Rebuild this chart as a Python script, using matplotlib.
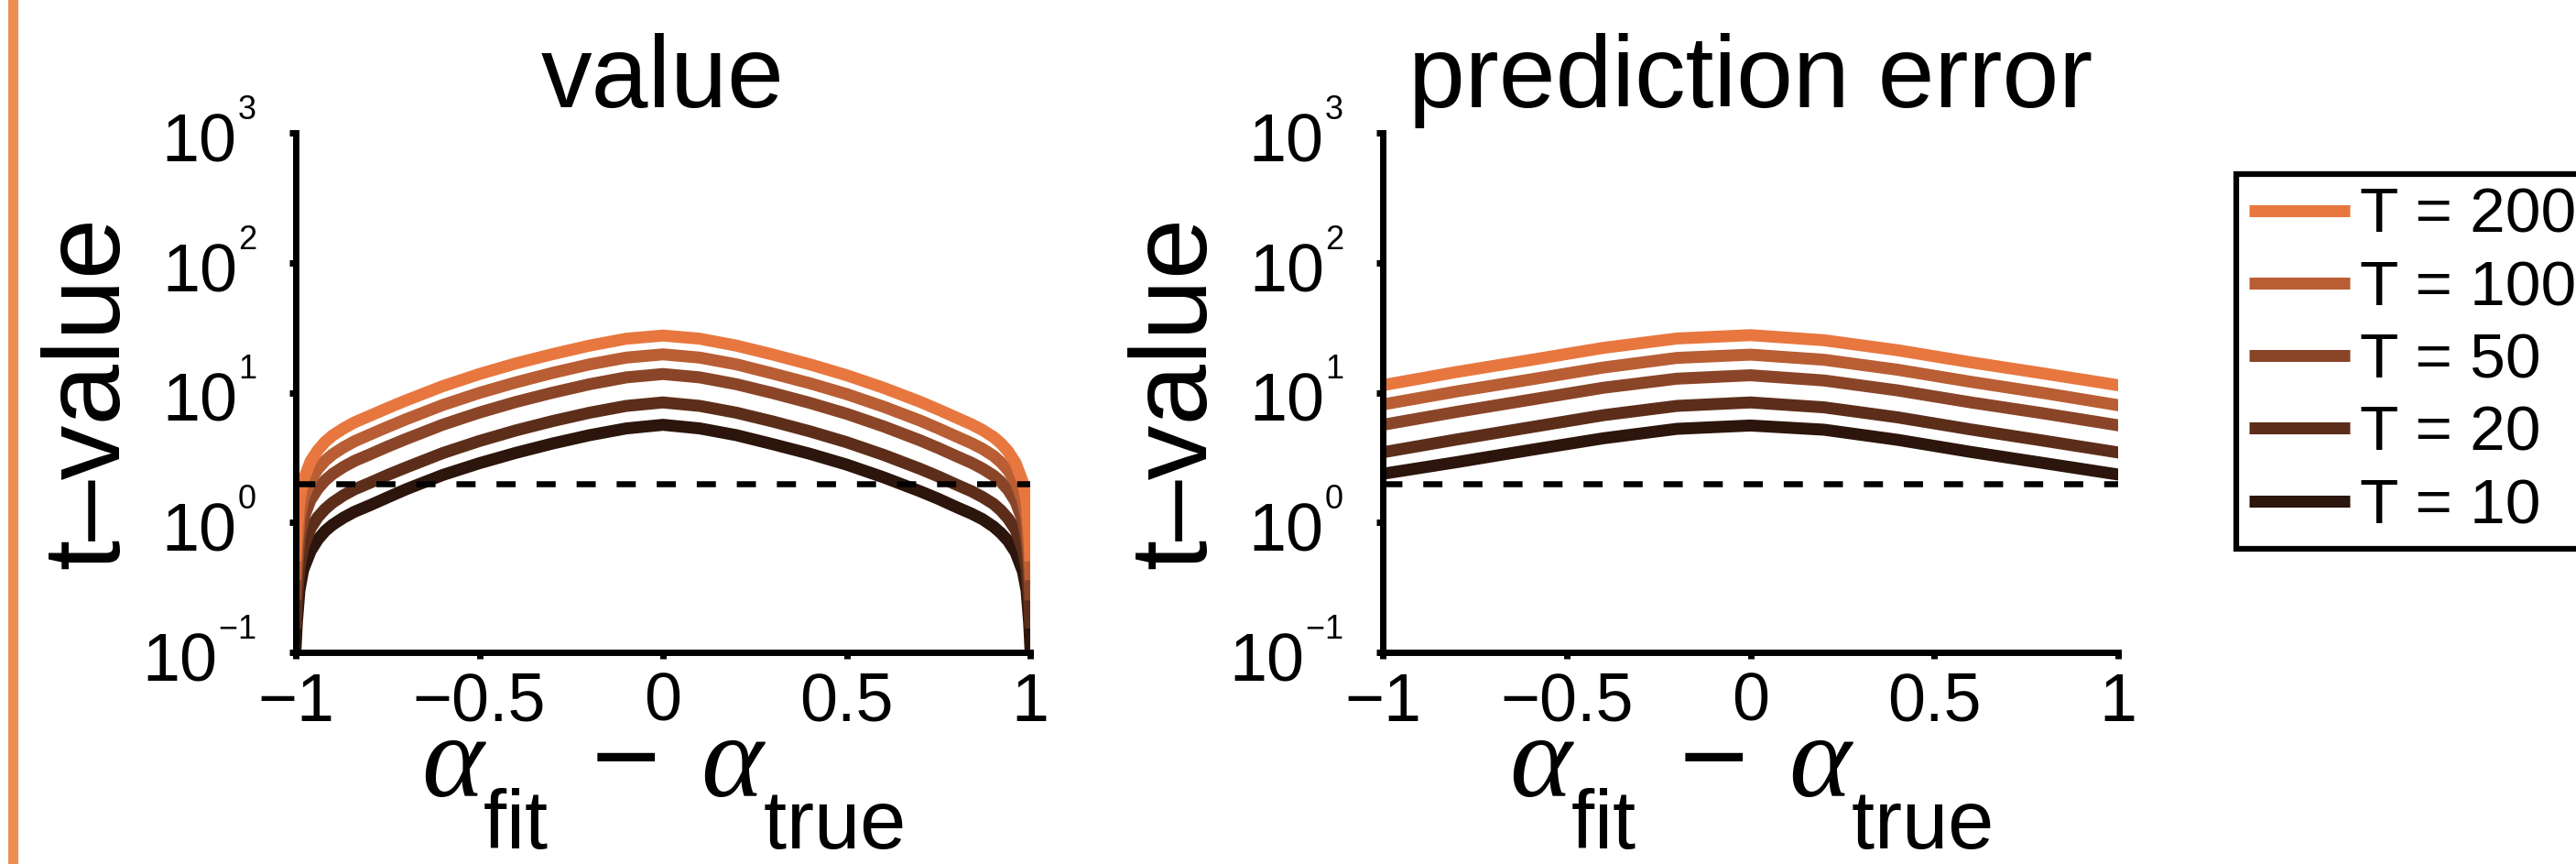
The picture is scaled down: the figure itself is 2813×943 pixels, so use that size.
import math
import matplotlib
matplotlib.use('Agg')
import matplotlib.pyplot as plt
from matplotlib.lines import Line2D
from matplotlib.patches import Rectangle
from matplotlib.ticker import FixedLocator, FuncFormatter, NullLocator

plt.rcParams['font.family'] = ['Liberation Sans', 'DejaVu Sans']
plt.rcParams['mathtext.fontset'] = 'custom'
plt.rcParams['mathtext.rm'] = 'Liberation Sans'
plt.rcParams['mathtext.it'] = 'Liberation Serif:italic'
plt.rcParams['mathtext.bf'] = 'Liberation Sans:bold'
plt.rcParams['mathtext.sf'] = 'Liberation Sans'
plt.rcParams['axes.unicode_minus'] = True

# lower subscripts (MATLAB-like placement of the x-label subscripts)
try:
    import matplotlib._mathtext as _mt
    _mt.FontConstantsBase.sub1 = 0.95
except Exception:
    pass

# ---------------- data ----------------
series_labels = ['T = 200', 'T = 100', 'T = 50', 'T = 20', 'T = 10']
series_colors = ['#E8773F', '#B95E34', '#8A4528', '#5C2E1A', '#2C150C']

panel_titles = ['value', 'prediction error']
y_ticks = [0.1, 1, 10, 100, 1000]
x_ticks = [-1, -0.5, 0, 0.5, 1]
x_ticklabels = ['\u22121', '\u22120.5', '0', '0.5', '1']
threshold = 2.0

# "value" panel
x_value = [-1.0, -0.997, -0.99, -0.98, -0.96, -0.94, -0.92, -0.9, -0.87, -0.84, -0.8,
           -0.75, -0.7, -0.6, -0.5, -0.4, -0.3, -0.2, -0.1, 0.0,
           0.1, 0.2, 0.3, 0.4, 0.5, 0.6, 0.7, 0.75, 0.8, 0.84, 0.87, 0.9, 0.92,
           0.94, 0.96, 0.98, 0.99, 0.997, 1.0]
value_T200 = [0.56, 0.85, 1.48, 2.09, 2.95, 3.6, 4.18, 4.67, 5.3, 5.9, 6.6,
              7.6, 8.7, 11.2, 13.9, 16.8, 19.8, 23.0, 26.0, 27.5,
              26.0, 23.0, 19.6, 16.5, 13.6, 10.9, 8.5, 7.4, 6.4, 5.7, 5.15, 4.55, 4.07,
              3.52, 2.88, 2.04, 1.45, 0.83, 0.56]
value_T100 = [0.40, 0.61, 1.06, 1.50, 2.11, 2.58, 2.99, 3.34, 3.79, 4.22, 4.73,
              5.44, 6.23, 8.02, 9.95, 12.0, 14.2, 16.5, 18.6, 19.7,
              18.6, 16.5, 14.0, 11.8, 9.74, 7.80, 6.09, 5.30, 4.58, 4.08, 3.69, 3.26, 2.91,
              2.52, 2.06, 1.46, 1.04, 0.59, 0.40]
value_T50 = [0.28, 0.43, 0.75, 1.06, 1.49, 1.82, 2.11, 2.36, 2.68, 2.98, 3.33,
             3.84, 4.39, 5.66, 7.02, 8.48, 10.0, 11.6, 13.1, 13.9,
             13.1, 11.6, 9.9, 8.33, 6.87, 5.50, 4.29, 3.74, 3.23, 2.88, 2.60, 2.30, 2.06,
             1.78, 1.45, 1.03, 0.73, 0.42, 0.28]
value_T20 = [0.17, 0.26, 0.45, 0.64, 0.90, 1.10, 1.27, 1.42, 1.62, 1.80, 2.01,
             2.32, 2.65, 3.42, 4.24, 5.12, 6.04, 7.0, 7.9, 8.4,
             7.9, 7.0, 5.98, 5.03, 4.15, 3.32, 2.59, 2.26, 1.95, 1.74, 1.57, 1.39, 1.24,
             1.07, 0.88, 0.62, 0.44, 0.25, 0.17]
value_T10 = [0.115, 0.17, 0.30, 0.43, 0.60, 0.74, 0.86, 0.96, 1.09, 1.21, 1.35,
             1.56, 1.80, 2.32, 2.86, 3.44, 4.06, 4.7, 5.3, 5.65,
             5.3, 4.7, 4.0, 3.38, 2.79, 2.23, 1.74, 1.52, 1.31, 1.17, 1.06, 0.93, 0.83,
             0.72, 0.59, 0.42, 0.30, 0.17, 0.115]

# "prediction error" panel
x_pe = [-1.0, -0.8, -0.6, -0.4, -0.2, 0.0, 0.2, 0.4, 0.6, 0.8, 1.0]
pe_T200 = [11.4, 14.4, 17.8, 22.1, 26.1, 27.7, 25.3, 21.2, 17.1, 14.0, 11.4]
pe_T100 = [8.1, 10.2, 12.6, 15.6, 18.5, 19.6, 17.9, 15.0, 12.1, 9.9, 8.0]
pe_T50 = [5.65, 7.1, 8.8, 10.9, 12.8, 13.6, 12.4, 10.4, 8.4, 6.9, 5.6]
pe_T20 = [3.47, 4.35, 5.4, 6.7, 7.9, 8.4, 7.7, 6.45, 5.2, 4.25, 3.46]
pe_T10 = [2.37, 2.91, 3.61, 4.45, 5.26, 5.58, 5.18, 4.33, 3.49, 2.86, 2.34]

value_series = [value_T200, value_T100, value_T50, value_T20, value_T10]
pe_series = [pe_T200, pe_T100, pe_T50, pe_T20, pe_T10]

# ---------------- figure ----------------
W, H = 2813, 943
fig = plt.figure(figsize=(W / 100, H / 100), dpi=100)

# decorative orange bar on the left edge
fig.add_artist(Rectangle((9 / W, 0), 11 / W, 1, transform=fig.transFigure,
                         color='#EE8D50', lw=0))

ax_bottom = 1 - 712 / H
ax_height = 567 / H
ax1 = fig.add_axes([323 / W, ax_bottom, 802 / W, ax_height])
ax2 = fig.add_axes([1510 / W, ax_bottom, 803 / W, ax_height])

LW = 9.4
xlabel = r'$\alpha_{\mathrm{fit}}\;-\;\alpha_{\mathrm{true}}$'


def log_fmt(v, pos):
    return r'$\mathdefault{10^{{}^{%d}}}$' % round(math.log10(v))


for ax, xs, series, title in [(ax1, x_value, value_series, panel_titles[0]),
                              (ax2, x_pe, pe_series, panel_titles[1])]:
    # darkest first so the lightest (T = 200) ends up on top
    for ys, c in reversed(list(zip(series, series_colors))):
        ax.plot(xs, ys, color=c, lw=LW, solid_capstyle='projecting',
                solid_joinstyle='round', zorder=2)
    ax.axhline(threshold, color='black', lw=4.7, dashes=(3.2, 3.5), zorder=3)

    ax.set_yscale('log')
    ax.set_xlim(-1, 1)
    ax.set_ylim(0.1, 1000)
    ax.yaxis.set_major_locator(FixedLocator(y_ticks))
    ax.yaxis.set_major_formatter(FuncFormatter(log_fmt))
    ax.yaxis.set_minor_locator(NullLocator())
    ax.xaxis.set_major_locator(FixedLocator(x_ticks))
    ax.set_xticklabels(x_ticklabels)

    for s in ['top', 'right']:
        ax.spines[s].set_visible(False)
    for s in ['left', 'bottom']:
        ax.spines[s].set_linewidth(5)
        ax.spines[s].set_capstyle('projecting')
    ax.tick_params(axis='both', direction='out', length=5, width=5,
                   labelsize=53, colors='black')
    ax.tick_params(axis='x', pad=10)
    ax.tick_params(axis='y', pad=26)

    ax.set_title(title, fontsize=80, pad=20)
    ax.set_ylabel('t\u2013value', fontsize=86)
    ax.yaxis.set_label_coords(-0.21, 0.5)
    ax.set_xlabel(xlabel, fontsize=93)
    ax.xaxis.set_label_coords(0.5, -0.165)

handles = [Line2D([], [], color=c, lw=LW, solid_capstyle='butt') for c in series_colors]
leg = fig.legend(handles, series_labels, loc='upper left',
                 bbox_to_anchor=(2442 / W, 1 - 190 / H), bbox_transform=fig.transFigure,
                 fontsize=50, handlelength=1.58, handletextpad=0.17, labelspacing=0.22,
                 borderpad=0.2, borderaxespad=0, frameon=True, fancybox=False,
                 edgecolor='black', framealpha=1)
leg.get_frame().set_linewidth(4.5)

fig.savefig('out.png', dpi=100)
